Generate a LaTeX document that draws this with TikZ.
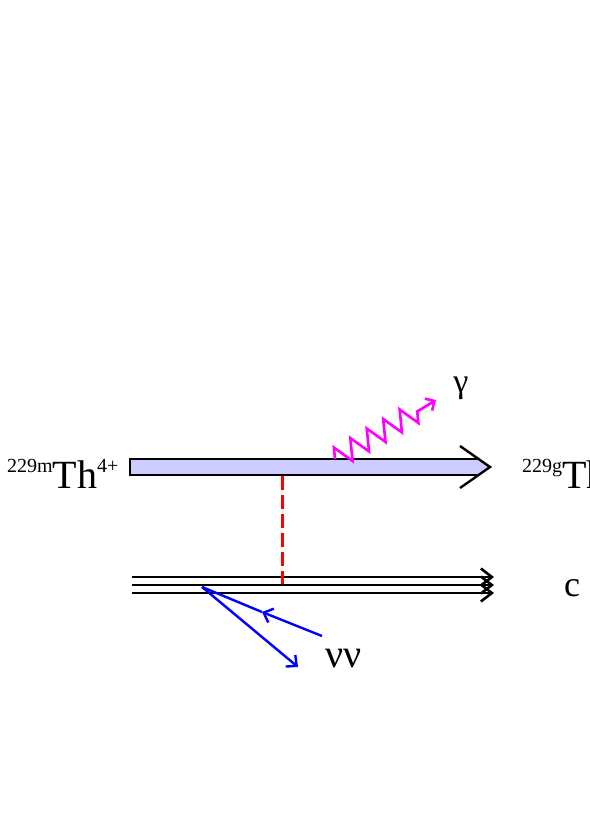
\documentclass[tikz,border=0pt]{standalone}
\usepackage{fontspec}
\setmainfont{Liberation Serif}
\usetikzlibrary{arrows.meta,decorations.pathmorphing}
\definecolor{barfill}{RGB}{204,204,255}
\definecolor{photonpink}{RGB}{255,0,255}
\newcommand\isotop[1]{\raisebox{16pt}{\fontsize{20}{20}\selectfont #1}}

\begin{document}
\begin{tikzpicture}[x=1pt, y=-1pt,
    level/.style={draw=black, line width=2.4pt, line join=miter},
    photon/.style={photonpink, line width=2.6pt, -{Straight Barb[length=7pt,width=14pt,line width=2.6pt]}},
    coupling/.style={red, line width=3pt, dash pattern=on 14pt off 5pt},
    electron/.style={black, line width=2.8pt, -{Straight Barb[length=11pt,width=17pt,line width=2.6pt]}},
    neutrino/.style={blue, line width=2.4pt, -{Straight Barb[length=8pt,width=15pt,line width=2.4pt]}},
    nuline/.style={blue, line width=2.4pt},
    lbl/.style={inner sep=0pt, anchor=base west}
  ]
    \clip (0,0) rectangle (589,832);

    % isomer transition
    \fill[barfill] (130,459) -- (477,459) -- (490,467) -- (477,475) -- (130,475) -- cycle;
    \draw[level] (477,459) -- (130,459) -- (130,475) -- (477,475);
    \draw[level] (460,446) -- (490,467) -- (460,488);

    \node[lbl] (thm) at (7,488) {\isotop{229m}\fontsize{40}{40}\selectfont Th\isotop{4+}};
    \node[lbl] (thg) at (522,488) {\isotop{229g}\fontsize{40}{40}\selectfont Th\isotop{4+}};

    % gamma
    \coordinate (g0) at (335,459);
    \coordinate (g1) at (418,411);
    \coordinate (g2) at (436,400);
    \draw[photon] (g0) decorate[decoration={zigzag, segment length=19pt, amplitude=10.5pt}] {-- (g1)} -- (g2);
    \node[font=\fontsize{34}{34}\selectfont] (gam) at (461,388) {γ};

    % electron shell
    \coordinate (c1) at (282,476);
    \coordinate (c2) at (282,584);
    \foreach \y/\n in {577/a,585/b,593/c}{
      \coordinate (e\n-w) at (132,\y);
      \coordinate (e\n-e) at (494,\y);
      \draw[electron] (e\n-w) -- (e\n-e);
    }
    \draw[coupling] (c1) -- (c2);
    \node[font=\fontsize{36}{36}\selectfont] (ce) at (572,588) {c};

    % neutrinos
    \coordinate (nu0) at (202,587);
    \coordinate (nu1) at (298,667);
    \coordinate (nu2) at (322,636);
    \coordinate (num) at (262,612);
    \draw[neutrino] (nu0) -- (nu1);
    \draw[neutrino] (nu2) -- (num);
    \draw[nuline] (num) -- (nu0);
    \node[font=\fontsize{40}{40}\selectfont] (nn) at (344,659) {νν};
  \end{tikzpicture}
\end{document}
